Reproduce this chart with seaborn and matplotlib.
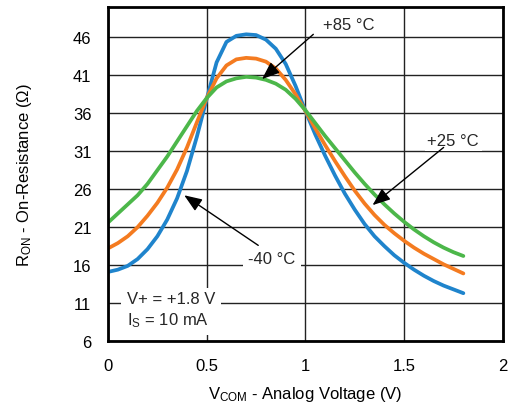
import numpy as np
import pandas as pd
import matplotlib
matplotlib.use("Agg")
import matplotlib.pyplot as plt
import seaborn as sns

# ---- data ----
v_com = [0.00, 0.05, 0.10, 0.15, 0.20, 0.25, 0.30, 0.35, 0.40, 0.45,
         0.50, 0.55, 0.60, 0.65, 0.70, 0.75, 0.80, 0.85, 0.90, 0.95,
         1.00, 1.05, 1.10, 1.15, 1.20, 1.25, 1.30, 1.35, 1.40, 1.45,
         1.50, 1.55, 1.60, 1.65, 1.70, 1.75, 1.80]
r_m40 = [15.1, 15.4, 15.9, 16.8, 18.1, 19.8, 22.0, 24.8, 28.4, 32.9,
         37.9, 42.7, 45.4, 46.2, 46.4, 46.3, 45.7, 44.5, 42.5, 39.6,
         36.3, 33.2, 30.4, 27.8, 25.4, 23.3, 21.4, 19.8, 18.5, 17.3,
         16.3, 15.4, 14.6, 13.9, 13.3, 12.8, 12.3]
r_p25 = [18.2, 18.9, 19.8, 21.0, 22.5, 24.2, 26.2, 28.6, 31.5, 34.8,
         38.0, 40.6, 42.3, 43.1, 43.3, 43.2, 42.8, 41.9, 40.4, 38.5,
         36.3, 34.0, 31.8, 29.7, 27.7, 25.8, 24.1, 22.6, 21.3, 20.2,
         19.2, 18.3, 17.5, 16.8, 16.1, 15.5, 14.9]
r_p85 = [21.6, 22.8, 24.0, 25.2, 26.7, 28.5, 30.3, 32.3, 34.3, 36.3,
         38.0, 39.4, 40.2, 40.6, 40.8, 40.7, 40.4, 39.9, 39.1, 37.9,
         36.4, 34.7, 33.0, 31.4, 29.8, 28.2, 26.7, 25.3, 24.0, 22.8,
         21.7, 20.7, 19.8, 19.0, 18.3, 17.7, 17.2]
series_names = ["-40 °C", "+25 °C", "+85 °C"]
series_colors = ["#1f84cc", "#f47b20", "#4cb74a"]
x_ticks = [0, 0.5, 1, 1.5, 2]
x_tick_labels = ["0", "0.5", "1", "1.5", "2"]
y_ticks = [6, 11, 16, 21, 26, 31, 36, 41, 46]

df = pd.DataFrame({
    "V": v_com * 3,
    "R": r_m40 + r_p25 + r_p85,
    "T": [series_names[0]] * len(v_com) + [series_names[1]] * len(v_com)
         + [series_names[2]] * len(v_com),
})

sns.set_theme(style="white")
plt.rcParams["font.family"] = ["Liberation Sans", "DejaVu Sans"]
plt.rcParams["mathtext.default"] = "regular"

fig = plt.figure(figsize=(5.2, 4.06), dpi=100)
ax = fig.add_axes([0.2077, 0.1576, 0.7593, 0.8227])

sns.lineplot(data=df, x="V", y="R", hue="T", hue_order=series_names,
             palette=series_colors, linewidth=2.7, legend=False, ax=ax,
             zorder=4)

ax.set_xlim(0, 2)
ax.set_ylim(6, 50)
ax.set_xticks(x_ticks)
ax.set_xticklabels(x_tick_labels)
ax.set_yticks(y_ticks)
ax.set_yticklabels([str(t) for t in y_ticks])
ax.tick_params(axis="both", length=0, labelsize=12, colors="black")
ax.tick_params(axis="y", pad=12)
ax.tick_params(axis="x", pad=12)

ax.grid(True, color="#222222", linewidth=1.0, zorder=1)
ax.set_axisbelow(True)
for s in ax.spines.values():
    s.set_color("black")
    s.set_linewidth(2.0)
    s.set_zorder(6)

ax.set_xlabel("V$_{COM}$ - Analog Voltage (V)", fontsize=12, color="black",
              labelpad=8)
ax.set_ylabel("R$_{ON}$ - On-Resistance (Ω)", fontsize=12, color="black",
              labelpad=28)

box = dict(facecolor="white", edgecolor="none", pad=2)
arrow = dict(arrowstyle="-|>,head_length=0.9,head_width=0.35", color="black",
             lw=1.0, shrinkA=0, shrinkB=0)

ax.text(1.218, 47.7, "+85 °C", fontsize=12, ha="center", va="center",
        bbox=box, zorder=3)
ax.annotate("", xy=(0.78, 40.5), xytext=(1.04, 46.4), arrowprops=arrow,
            zorder=5)

ax.text(1.749, 32.35, "+25 °C", fontsize=12, ha="center", va="center",
        bbox=box, zorder=3)
ax.annotate("", xy=(1.34, 23.9), xytext=(1.70, 31.5), arrowprops=arrow,
            zorder=5)

ax.text(0.83, 16.9, "-40 °C", fontsize=12, ha="center", va="center",
        bbox=dict(facecolor="white", edgecolor="none", pad=4), zorder=3)
ax.annotate("", xy=(0.386, 25.2), xytext=(0.761, 18.6), arrowprops=arrow,
            zorder=5)

ax.text(0.095, 10.05, "V+ = +1.8 V\nI$_S$ = 10 mA", fontsize=12,
        ha="left", va="center", linespacing=1.3,
        bbox=dict(facecolor="white", edgecolor="none", pad=4), zorder=3)

fig.savefig("out.png", dpi=100)
